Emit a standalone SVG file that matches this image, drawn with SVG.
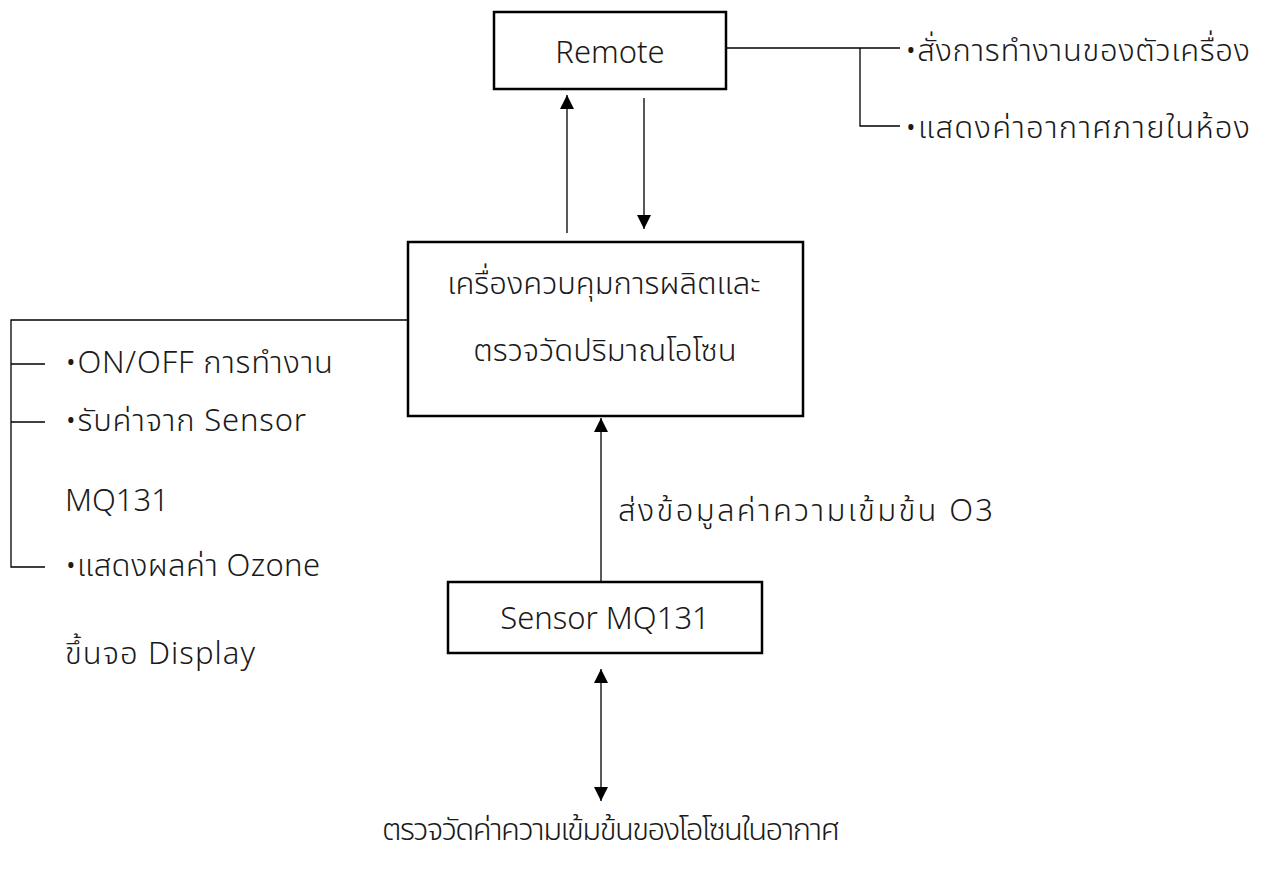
<svg xmlns="http://www.w3.org/2000/svg" width="1267" height="870" viewBox="0 0 1267 870">
<defs>
<style>
.box{fill:#fff;stroke:#000;stroke-width:2.5}
.ln{fill:none;stroke:#000;stroke-width:1.3}
.t{font-family:"Noto Sans Thai","Noto Sans","Open Sans","DejaVu Sans",sans-serif;font-size:31px;font-weight:300;fill:#1a1a1a;dominant-baseline:central}
.c{text-anchor:middle}
</style>
<marker id="ah" viewBox="0 0 10 10" refX="10" refY="5" markerWidth="14" markerHeight="14" markerUnits="userSpaceOnUse" orient="auto-start-reverse">
<path d="M0,0 L10,5 L0,10 z" fill="#000"/>
</marker>
</defs>
<rect width="1267" height="870" fill="#fff"/>
<g id="connectors">
<line class="ln" x1="567" y1="233" x2="567" y2="95" marker-end="url(#ah)"/>
<line class="ln" x1="644" y1="98" x2="644" y2="229" marker-end="url(#ah)"/>
<polyline class="ln" points="726,48 900,48"/>
<polyline class="ln" points="860,48 860,126 900,126"/>
<polyline class="ln" points="408,320 11,320 11,567 45,567"/>
<line class="ln" x1="11" y1="364" x2="45" y2="364"/>
<line class="ln" x1="11" y1="422" x2="45" y2="422"/>
<line class="ln" x1="601" y1="582" x2="601" y2="418" marker-end="url(#ah)"/>
<line class="ln" x1="601" y1="669" x2="601" y2="801" marker-start="url(#ah)" marker-end="url(#ah)"/>
</g>
<g id="remote">
<rect class="box" x="494" y="12" width="232" height="77"/>
<text class="t c" x="610" y="53">Remote</text>
</g>
<g id="remote-notes">
<text class="t" x="905" y="51" textLength="345" lengthAdjust="spacing">•สั่งการทำงานของตัวเครื่อง</text>
<text class="t" x="905" y="128" textLength="345" lengthAdjust="spacing">•แสดงค่าอากาศภายในห้อง</text>
</g>
<g id="controller">
<rect class="box" x="408" y="242" width="395" height="174"/>
<text class="t c" x="604" y="284">เครื่องควบคุมการผลิตและ</text>
<text class="t c" x="605" y="351">ตรวจวัดปริมาณโอโซน</text>
</g>
<g id="controller-notes">
<text class="t" x="65" y="363" textLength="268" lengthAdjust="spacing">•ON/OFF การทำงาน</text>
<text class="t" x="65" y="421" textLength="241" lengthAdjust="spacing">•รับค่าจาก Sensor</text>
<text class="t" x="65" y="501">MQ131</text>
<text class="t" x="65" y="566" textLength="255" lengthAdjust="spacing">•แสดงผลค่า Ozone</text>
<text class="t" x="65" y="654" textLength="190" lengthAdjust="spacing">ขึ้นจอ Display</text>
</g>
<g id="data-label">
<text class="t" x="618" y="511" textLength="375" lengthAdjust="spacing">ส่งข้อมูลค่าความเข้มข้น O3</text>
</g>
<g id="sensor">
<rect class="box" x="448" y="582" width="314" height="71"/>
<text class="t c" x="605" y="619">Sensor MQ131</text>
</g>
<g id="air">
<text class="t" x="382" y="830" textLength="458" lengthAdjust="spacing">ตรวจวัดค่าความเข้มข้นของโอโซนในอากาศ</text>
</g>
</svg>
